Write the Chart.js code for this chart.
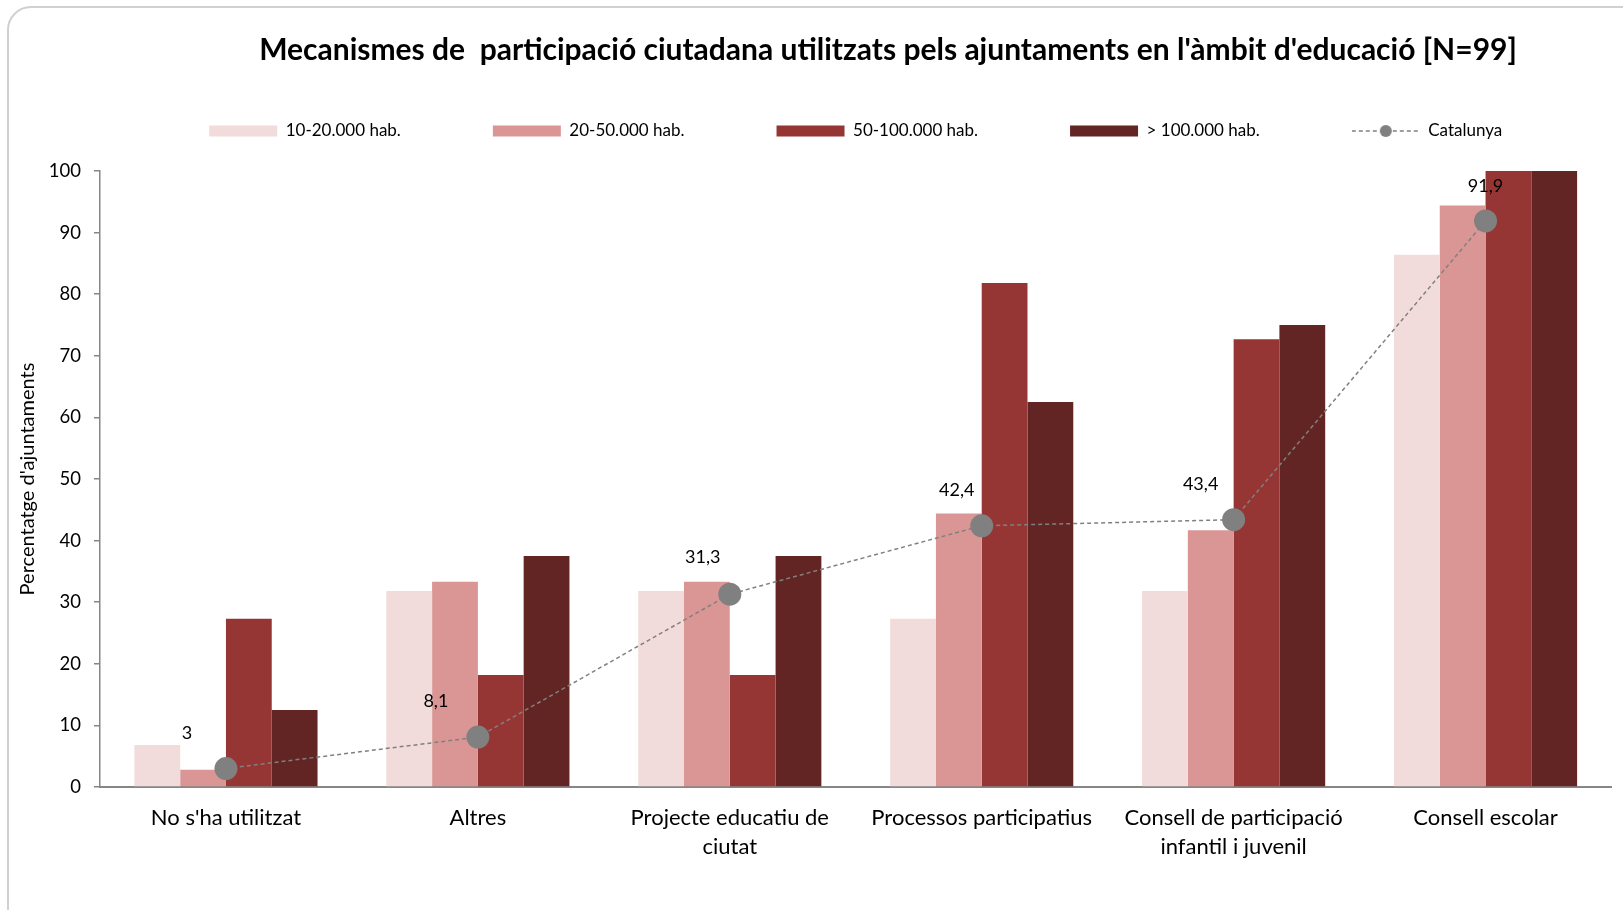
<!DOCTYPE html>
<html>
<head>
<meta charset="utf-8">
<script src="https://cdn.jsdelivr.net/npm/chart.js@4.4.1/dist/chart.umd.min.js"></script>
<style>
	html, body { margin: 0; padding: 0; background: #fff; overflow: hidden; }
	#frame { position: absolute; left: 7px; top: 6px; width: 1640px; height: 925px; border: 2px solid #d0d0d0; border-radius: 24px; }
	#wrap { position: absolute; left: 0; top: 0; width: 1623px; height: 910px; }
</style>
</head>
<body>
<div id="frame"></div>
<div id="wrap"><canvas id="chart"></canvas></div>
<script>
const titleText = "Mecanismes de  participació ciutadana utilitzats pels ajuntaments en l'àmbit d'educació [N=99]"
const yTitle = "Percentatge d'ajuntaments"

const categories = [
	["No s'ha utilitzat"],
	['Altres'],
	['Projecte educatiu de', 'ciutat'],
	['Processos participatius'],
	['Consell de participació', 'infantil i juvenil'],
	['Consell escolar']
]

const seriesNames = ['10-20.000 hab.', '20-50.000 hab.', '50-100.000 hab.', '> 100.000 hab.', 'Catalunya']

const hab10to20  = [6.8, 31.8, 31.8, 27.3, 31.8, 86.4]
const hab20to50  = [2.8, 33.3, 33.3, 44.4, 41.7, 94.4]
const hab50to100 = [27.3, 18.2, 18.2, 81.8, 72.7, 100]
const habOver100 = [12.5, 37.5, 37.5, 62.5, 75, 100]
const catalunya  = [3, 8.1, 31.3, 42.4, 43.4, 91.9]

const yMin = 0
const yMax = 100
const yStep = 10

// where each Catalunya label sits relative to its point
const labelShift = [[-39, -35], [-42, -36], [-27, -37], [-25, -36], [-33, -35], [0, -35]]

const barColors = ['#F2DCDB', '#DA9694', '#963634', '#632523']
const lineColor = '#808080'
const axisColor = '#868686'
const font = 'Lato, "Open Sans", sans-serif'

// dashed line with a dot, used as the legend symbol for Catalunya
function lineIcon() {
	const c = document.createElement('canvas')
	c.width = 68
	c.height = 16
	const g = c.getContext('2d')
	g.strokeStyle = lineColor
	g.lineWidth = 1.5
	g.setLineDash([4, 3])
	g.beginPath()
	g.moveTo(0, 8); g.lineTo(27, 8)
	g.moveTo(41, 8); g.lineTo(68, 8)
	g.stroke()
	g.fillStyle = lineColor
	g.beginPath()
	g.arc(34, 8, 6, 0, Math.PI * 2)
	g.fill()
	return c
}
const catalunyaIcon = lineIcon()

const chartTitle = {
	id: 'chartTitle',
	afterDraw(chart) {
		const ctx = chart.ctx
		ctx.save()
		ctx.font = 'bold 30px ' + font
		ctx.fillStyle = '#000'
		ctx.textAlign = 'center'
		ctx.textBaseline = 'middle'
		ctx.fillText(titleText, 888, 50)
		ctx.restore()
	}
}

// empty band between the legend and the plot
const legendGap = {
	id: 'legendGap',
	beforeInit(chart) {
		Chart.layouts.addBox(chart, {
			position: 'top',
			weight: 500,
			fullSize: false,
			options: {},
			isHorizontal() { return true },
			update(maxWidth) {
				this.width = maxWidth
				this.height = 21.5
			},
			draw() {}
		})
	}
}

const pointLabels = {
	id: 'pointLabels',
	afterDatasetsDraw(chart) {
		const meta = chart.getDatasetMeta(4)
		const ctx = chart.ctx
		ctx.save()
		ctx.font = '18px ' + font
		ctx.fillStyle = '#000'
		ctx.textAlign = 'center'
		ctx.textBaseline = 'middle'
		meta.data.forEach((pt, i) => {
			const [dx, dy] = labelShift[i]
			ctx.fillText(String(catalunya[i]).replace('.', ','), pt.x + dx, pt.y + dy)
		})
		ctx.restore()
	}
}

const barSeries = [hab10to20, hab20to50, hab50to100, habOver100]
const datasets = barSeries.map((values, i) => ({
	type: 'bar',
	label: seriesNames[i],
	data: values,
	backgroundColor: barColors[i],
	borderWidth: 0,
	categoryPercentage: 0.727,
	barPercentage: 1,
	order: 1
}))
datasets.push({
	type: 'line',
	label: seriesNames[4],
	data: catalunya,
	borderColor: lineColor,
	backgroundColor: lineColor,
	borderWidth: 1.5,
	borderDash: [4, 3],
	pointRadius: 11.5,
	pointHoverRadius: 11.5,
	pointBackgroundColor: lineColor,
	pointBorderWidth: 0,
	tension: 0,
	order: 0
})

new Chart(document.getElementById('chart'), {
	data: { labels: categories, datasets: datasets },
	plugins: [chartTitle, legendGap, pointLabels],
	options: {
		responsive: true,
		maintainAspectRatio: false,
		animation: false,
		layout: { padding: { top: 30.5, left: 0, right: 11, bottom: 0 } },
		plugins: {
			tooltip: { enabled: false },
			title: { display: false },
			legend: {
				position: 'top',
				fullSize: false,
				align: 'center',
				labels: {
					usePointStyle: true,
					pointStyleWidth: 68,
					boxHeight: 11,
					padding: 92,
					color: '#000',
					font: { family: font, size: 17 },
					sort: (a, b) => a.datasetIndex - b.datasetIndex,
					generateLabels(chart) {
						const items = Chart.defaults.plugins.legend.labels.generateLabels(chart)
						items.forEach(item => {
							item.pointStyle = item.datasetIndex === 4 ? catalunyaIcon : 'rect'
							item.lineWidth = 0
						})
						return items
					}
				}
			}
		},
		scales: {
			x: {
				grid: { display: false, drawTicks: false },
				border: { display: true, color: axisColor, width: 2 },
				ticks: {
					color: '#000',
					padding: 16.5,
					maxRotation: 0,
					font: { family: font, size: 22, lineHeight: 1.32 }
				},
				afterFit(scale) { scale.height = 123 }
			},
			y: {
				min: yMin,
				max: yMax,
				grid: { display: true, drawOnChartArea: false, drawTicks: true, tickLength: 6, color: axisColor, lineWidth: 1.5 },
				border: { display: true, color: axisColor, width: 1.5 },
				ticks: {
					stepSize: yStep,
					color: '#000',
					padding: 13,
					font: { family: font, size: 18.5 }
				},
				title: {
					display: true,
					text: yTitle,
					color: '#000',
					padding: { top: 16, bottom: 0 },
					font: { family: font, size: 20 }
				},
				afterFit(scale) { scale.width = 100 }
			}
		}
	}
})
</script>
</body>
</html>
